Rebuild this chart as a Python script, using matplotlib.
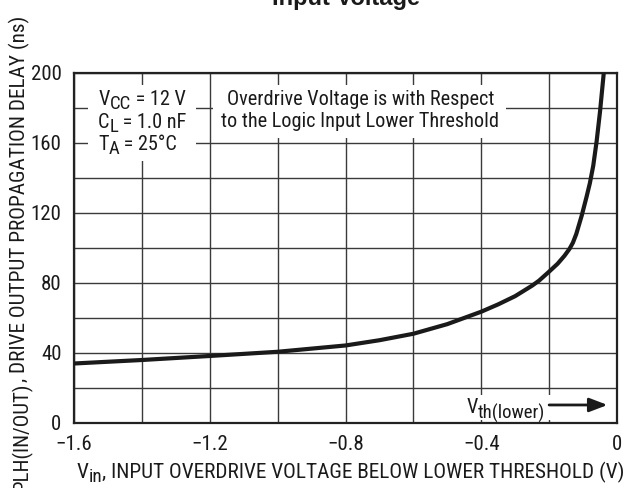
import matplotlib
matplotlib.use("Agg")
import matplotlib.pyplot as plt
from matplotlib.patches import Rectangle
from matplotlib.transforms import IdentityTransform
from matplotlib import font_manager

# ---- data ----
vin = [-1.6, -1.4, -1.2, -1.0, -0.8, -0.7, -0.6, -0.5, -0.4, -0.35, -0.3,
       -0.25, -0.23, -0.2, -0.175, -0.155, -0.14, -0.13, -0.12, -0.104,
       -0.09, -0.08, -0.07, -0.06, -0.05, -0.04, -0.039]
delay = [34, 36, 38.3, 40.7, 44.3, 47.3, 51, 56.5, 63.6, 67.8, 72.5,
         78.5, 81.3, 86.5, 91, 95.5, 99.5, 103, 108, 118.5,
         129, 137, 147, 161, 178, 198, 200]
xticks = [-1.6, -1.2, -0.8, -0.4, 0]
xticklabels = ["\u22121.6", "\u22121.2", "\u22120.8", "\u22120.4", "0"]
yticks = [0, 40, 80, 120, 160, 200]
yticklabels = ["0", "40", "80", "120", "160", "200"]

# ---- font choice: prefer a narrow sans ----
names = {f.name for f in font_manager.fontManager.ttflist}
narrow = None
for cand in ["Liberation Sans Narrow", "Arial Narrow", "Roboto Condensed",
             "Open Sans Condensed", "Noto Sans Condensed", "DejaVu Sans Condensed"]:
    if cand in names:
        narrow = cand
        break
k = 1.0 if narrow else 0.84
base = narrow or "Liberation Sans"
plt.rcParams["font.family"] = [base, "DejaVu Sans"]

ink = "#1a1a1a"
fig = plt.figure(figsize=(6.25, 4.88), dpi=100)
W, H = 625, 488
ax = fig.add_axes([74 / W, 1 - 423 / H, (617 - 74) / W, (423 - 73) / H])
ax.set_xlim(-1.6, 0)
ax.set_ylim(0, 200)
ax.set_axisbelow(True)
ax.set_xticks([-1.6 + 0.2 * i for i in range(9)], minor=True)
ax.set_yticks(list(range(0, 201, 20)), minor=True)
ax.grid(True, which="both", color="#3a3a3a", linewidth=1.0)
ax.set_xticks(xticks)
ax.set_xticklabels(xticklabels)
ax.set_yticks(yticks)
ax.set_yticklabels(yticklabels)
ax.tick_params(which="both", length=0, labelsize=15 * k, pad=9, labelcolor=ink)
for s in ax.spines.values():
    s.set_linewidth(1.6)
    s.set_color("#222222")
    s.set_zorder(2.8)

ax.plot(vin, delay, color=ink, linewidth=3.0, zorder=3, solid_capstyle="butt")

# white boxes hiding grid behind the notes
for (x0, x1, y0, y1) in [(-1.559, -1.240, 150, 193), (-1.190, -0.328, 163, 193), (-0.46, -0.012, 1.5, 16)]:
    ax.add_patch(Rectangle((x0, y0), x1 - x0, y1 - y0, facecolor="white", edgecolor="none", zorder=2.2))

renderer = fig.canvas.get_renderer()


def seq_text(x, y, segs, rotation=0, align="left"):
    """Lay out text segments (text, size, drop_px) one after another, in display pixels."""
    arts, lens = [], []
    for s, size, drop in segs:
        t = fig.text(0, 0, s, fontsize=size, color=ink, transform=IdentityTransform(),
                     rotation=rotation, rotation_mode="anchor", ha="left", va="baseline", zorder=5)
        bb = t.get_window_extent(renderer)
        arts.append((t, drop))
        lens.append(bb.width if rotation == 0 else bb.height)
    total = sum(lens)
    if align == "right":
        pos = -total
    elif align == "center":
        pos = -total / 2
    else:
        pos = 0.0
    for (t, drop), L in zip(arts, lens):
        if rotation == 0:
            t.set_position((x + pos, y - drop))
        else:
            t.set_position((x + drop, y + pos))
        pos += L
    return arts


def dpx(xd, yd):
    return ax.transData.transform((xd, yd))


fs = 14.6 * k
fsub = 13.5 * k
px, py = dpx(-1.529, 181.5)
seq_text(px, py, [("V", fs, 0), ("CC", fsub, 4), (" = 12 V", fs, 0)])
px, py = dpx(-1.529, 168.5)
seq_text(px, py, [("C", fs, 0), ("L", fsub, 4), (" = 1.0 nF", fs, 0)])
px, py = dpx(-1.529, 156)
seq_text(px, py, [("T", fs, 0), ("A", fsub, 4), (" = 25°C", fs, 0)])
ax.text(-0.756, 181.5, "Overdrive Voltage is with Respect", fontsize=fs, ha="center", va="baseline", zorder=4, color=ink)
ax.text(-0.756, 169, "to the Logic Input Lower Threshold", fontsize=fs, ha="center", va="baseline", zorder=4, color=ink)
px, py = dpx(-0.213, 5.5)
seq_text(px, py, [("V", fs, 0), ("th(lower)", fsub, 5)], align="right")
ax.annotate("", xy=(-0.028, 10.3), xytext=(-0.2, 10.3),
            arrowprops=dict(arrowstyle="-|>,head_length=1.1,head_width=0.42", color=ink, lw=2.0,
                            shrinkA=0, shrinkB=0),
            zorder=4)

# axis titles
seq_text(77, H - 478, [("V", 15.3 * k, 0), ("in", 13.8 * k, 4),
                        (", INPUT OVERDRIVE VOLTAGE BELOW LOWER THRESHOLD (V)", 15.3 * k, 0)])
seq_text(25, H - 16, [("t", 15.3 * k, 0), ("PLH(IN/OUT)", 15 * k, 3),
                       (", DRIVE OUTPUT PROPAGATION DELAY (ns)", 15.3 * k, 0)],
         rotation=90, align="right")

fig.text(346 / W, 1 - 5 / H, "Input Voltage", fontsize=17, fontweight="bold",
         family=["Liberation Sans", "DejaVu Sans"], ha="center", va="baseline", color=ink)

fig.savefig("out.png", dpi=100)
